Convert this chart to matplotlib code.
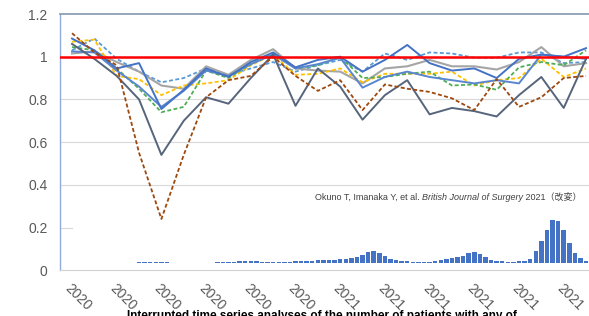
import matplotlib
matplotlib.use("Agg")
import matplotlib.pyplot as plt
import numpy as np

# monthly ratio of observed / expected surgical volume (index 0 = first month)
months = np.arange(24)
brown = [1.11, 1.02, 0.96, 0.55, 0.24, 0.54, 0.81, 0.89, 0.91, 1.00, 0.91, 0.84,
         0.89, 0.75, 0.87, 0.85, 0.835, 0.805, 0.75, 0.895, 0.765, 0.81, 0.90, 0.91]
slate = [1.06, 0.99, 0.91, 0.80, 0.54, 0.70, 0.81, 0.78, 0.90, 1.01, 0.77, 0.945,
         0.86, 0.705, 0.82, 0.89, 0.73, 0.76, 0.745, 0.72, 0.82, 0.905, 0.76, 0.99]
green = [1.045, 1.03, 0.945, 0.85, 0.74, 0.765, 0.935, 0.90, 0.965, 1.015, 0.945, 0.96,
         1.0, 0.90, 0.905, 0.92, 0.93, 0.865, 0.87, 0.845, 0.95, 0.975, 0.96, 1.03]
gold = [1.07, 1.08, 0.91, 0.895, 0.82, 0.865, 0.875, 0.89, 0.96, 1.01, 0.915, 0.92,
        0.945, 0.88, 0.92, 0.92, 0.92, 0.93, 0.865, 0.89, 0.90, 0.99, 0.905, 0.945]
lightblue = [1.03, 1.085, 0.99, 0.93, 0.88, 0.90, 0.945, 0.915, 0.945, 0.975, 0.93, 0.96,
             0.985, 0.93, 1.015, 0.985, 1.02, 1.015, 0.995, 0.995, 1.02, 1.02, 0.97, 0.975]
gray = [1.015, 1.025, 0.975, 0.93, 0.865, 0.85, 0.955, 0.915, 0.985, 1.035, 0.945, 0.935,
        0.93, 0.875, 0.945, 0.955, 0.985, 0.955, 0.955, 0.94, 0.975, 1.045, 0.955, 0.97]
blue_a = [1.085, 1.03, 0.945, 0.97, 0.755, 0.845, 0.945, 0.905, 0.975, 1.02, 0.95, 0.985,
          1.0, 0.93, 0.985, 1.055, 0.97, 0.935, 0.945, 0.90, 0.99, 1.01, 1.0, 1.04]
blue_b = [1.025, 1.02, 0.935, 0.86, 0.765, 0.84, 0.935, 0.91, 0.965, 1.01, 0.945, 0.965,
          0.995, 0.855, 0.905, 0.93, 0.905, 0.89, 0.875, 0.89, 0.875, 1.01, 1.0, 0.99]

xlabels = ["2020"] * 6 + ["2021"] * 6

# new covid cases (thousands), quarter-month steps starting at month 3
case_pos = np.arange(3.0, 23.26, 0.25)
cases = [0.3, 0.46, 0.58, 0.58, 0.58, 0.46, 0.23, 0.06, 0.03, 0.03, 0.03, 0.03,
         0.06, 0.17, 0.46, 0.58, 0.7, 0.87, 1.16, 1.33, 1.16, 0.93, 0.75, 0.7,
         0.64, 0.64, 0.7, 0.81, 1.04, 1.16, 1.33, 1.45, 1.62, 1.74, 1.86, 2.03,
         2.32, 2.61, 2.9, 3.48, 4.64, 6.38, 7.25, 5.8, 4.06, 2.61, 1.62, 1.16,
         0.93, 0.81, 0.75, 0.75, 0.87, 1.16, 1.74, 2.32, 2.9, 3.48, 4.35, 5.8,
         6.38, 5.22, 3.48, 2.03, 1.28, 0.93, 0.75, 0.75, 0.93, 1.45, 2.32, 6.96,
         12.76, 19.14, 24.94, 24.36, 19.14, 11.6, 5.8, 2.9, 1.45, 1.16]

W, H = 589, 316
fig = plt.figure(figsize=(W / 100, H / 100), dpi=100)
ax = fig.add_axes([60 / W, (H - 270.2) / H, (600 - 60) / W, (270.2 - 14) / H])
ax2 = ax.twinx()
ax.set_zorder(ax2.get_zorder() + 1)
ax.patch.set_visible(False)

step = 22.35
ax.set_xlim((60 - 72) / step, (600 - 72) / step)
ax.set_ylim(0, 1.2)

# bars underneath
ax2.bar(case_pos, cases, width=0.2, color="#4472c4", linewidth=0)
kpp = 0.58
ax2.set_ylim(-7.2 * kpp, (270.2 - 14 - 7.2) * kpp)
ax2.set_yticks([])
for s in ax2.spines.values():
    s.set_visible(False)

# grid
for g in [0.4, 0.6, 0.8, 1.0]:
    ax.axhline(g, color="#d9d9d9", lw=0.8, zorder=0)
ax.plot([ax.get_xlim()[0], 0], [0.2, 0.2], color="#d9d9d9", lw=0.8, zorder=0)

dash = (0, (2.2, 1.3))
ax.plot(months, lightblue, color="#5b9bd5", lw=1.3, ls=dash)
ax.plot(months, gray, color="#a5a5a5", lw=1.5)
ax.plot(months, gold, color="#ffc000", lw=1.3, ls=dash)
ax.plot(months, green, color="#4fae55", lw=1.3, ls=dash)
ax.plot(months, blue_b, color="#5a86cf", lw=1.4)
ax.plot(months, blue_a, color="#4472c4", lw=1.4)
ax.plot(months, slate, color="#56657c", lw=1.4)
ax.plot(months, brown, color="#9e480e", lw=1.3, ls=dash)
ax.axhline(1.0, color="#ff0000", lw=1.8, zorder=5)

ax.spines["right"].set_visible(False)
ax.spines["top"].set_color("#8497b0")
ax.spines["top"].set_linewidth(1.2)
ax.spines["left"].set_color("#8faadc")
ax.spines["left"].set_linewidth(1.0)
ax.spines["bottom"].set_color("#d0d0d0")

ax.set_yticks([0, 0.2, 0.4, 0.6, 0.8, 1.0, 1.2])
ax.set_yticklabels(["0", "0.2", "0.4", "0.6", "0.8", "1", "1.2"])
ax.set_xticks(np.arange(0, 24, 2))
ax.set_xticklabels(xlabels, rotation=-45, ha="left", va="top", rotation_mode="anchor")
ax.tick_params(length=0, labelsize=10, labelcolor="#595959")
ax.tick_params(axis="y", pad=9)
ax.tick_params(axis="x", pad=8)
for t in ax.get_xticklabels() + ax.get_yticklabels():
    t.set_fontfamily("Liberation Sans")

# citation
fs = 6.5
t1 = fig.text(315 / W, 1 - 200 / H, "Okuno T, Imanaka Y, et al. ", fontsize=fs,
              color="#404040", family="Liberation Sans", va="baseline")
t2 = ax.annotate("British Journal of Surgery", xy=(1, 0), xycoords=t1, fontsize=fs,
                 color="#404040", family="Liberation Sans", style="italic", va="bottom")
t3 = ax.annotate(" 2021（改変）", xy=(1, 0), xycoords=t2, fontsize=fs, color="#404040",
                 family=["Liberation Sans", "Noto Sans CJK JP"], va="bottom")

fig.text(127 / W, 1 - 310 / H,
         "Interrupted time series analyses of the number of patients with any of",
         fontsize=8.5, fontweight="bold", family="Liberation Sans", va="top", color="black")

fig.savefig("out.png", dpi=100)
